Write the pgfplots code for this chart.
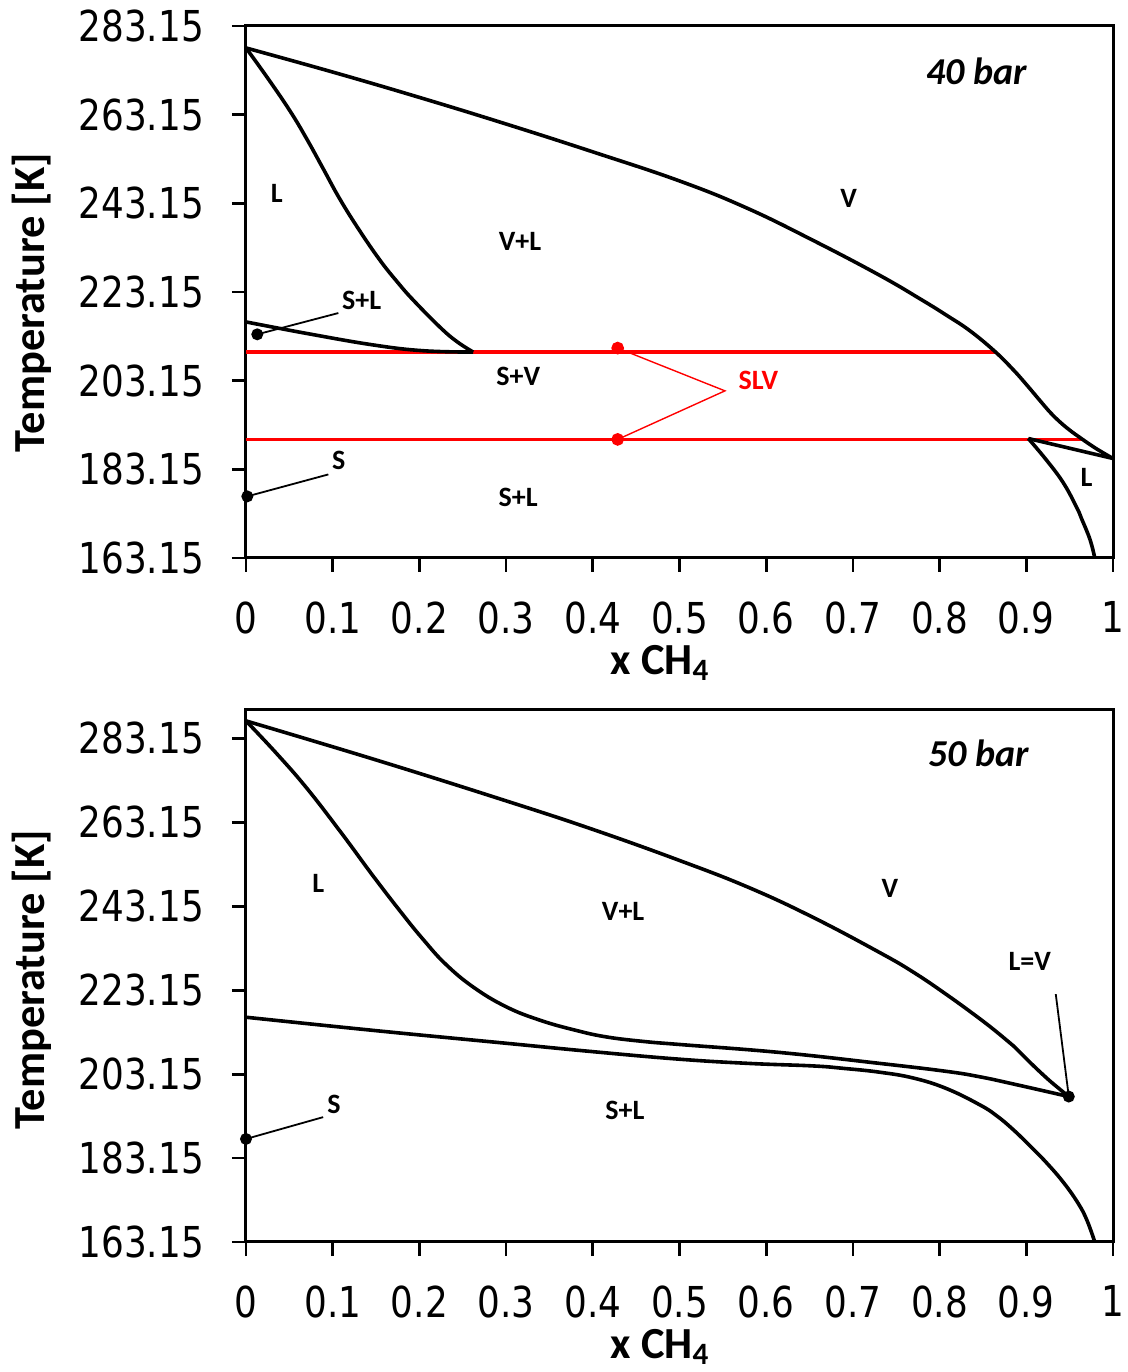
\documentclass[border=0pt]{standalone}
\usepackage{fontspec}
\setmainfont{Carlito}
\newfontfamily\tickfont[FakeStretch=0.84]{DejaVu Sans}
\usepackage{pgfplots}
\pgfplotsset{compat=1.18}
\pgfplotsset{
  phase/.style={
    scale only axis, width=433.5pt, height=266pt,
    xmin=0, xmax=1, clip=false,
    xtick={0,0.1,0.2,0.3,0.4,0.5,0.6,0.7,0.8,0.9,1},
    xticklabels={0,0.1,0.2,0.3,0.4,0.5,0.6,0.7,0.8,0.9,1},
    ytick={163.15,183.15,203.15,223.15,243.15,263.15,283.15},
    yticklabels={163.15,183.15,203.15,223.15,243.15,263.15,283.15},
    tick pos=left, tick align=outside, major tick length=7pt,
    line width=1.5pt,
    every tick/.style={black, line width=1.4pt},
    ticklabel style={font=\tickfont\fontsize{21.3}{25}\selectfont},
    xticklabel style={inner sep=0.5pt, yshift=-13.6pt},
    yticklabel style={xshift=-10pt},
    label style={font=\fontsize{22.2}{26}\selectfont\bfseries},
    xlabel={x CH\textsubscript{4}},
    ylabel={Temperature [K]},
  },
  pcurve/.style={black, line width=1.8pt, no markers},
  red line/.style={red, line width=1.7pt, no markers},
  leader/.style={black, line width=0.9pt, no markers},
}
\tikzset{region/.style={font=\fontsize{14}{16}\selectfont\bfseries}}
\begin{document}
\begin{tikzpicture}
\path[use as bounding box] (0,0) rectangle (564pt,686pt);
% ---------------- 40 bar ----------------
\begin{axis}[phase, at={(123pt,407pt)}, anchor=south west,
  ymin=163.15, ymax=283.15,
  xlabel style={at={(axis description cs:0.4775,-0.1975)}, anchor=center, inner sep=0pt},
  ylabel style={at={(axis description cs:-0.247,0.48)}, anchor=center, rotate=0}]
\addplot[red line] coordinates {(0,209.6) (0.864,209.6)};
\addplot[red line] coordinates {(0,189.9) (0.964,189.9)};
\addplot[red, line width=0.7pt] coordinates {(0.4287,210.5) (0.5524,200.85) (0.4287,189.9)};
\addplot[only marks, red, mark=*, mark size=2.4pt] coordinates {(0.4287,210.5) (0.4287,189.9)};
% dew curve
\addplot[pcurve, smooth, tension=0.7] coordinates {(0,278.2) (0.1,272.76) (0.2,267.04) (0.3,261.04) (0.4,254.76) (0.5,248.2)
  (0.5775,242.1) (0.654,234.8) (0.731,226.9) (0.78,221.3) (0.808,217.9) (0.835,214.4) (0.864,209.7)
  (0.885,205.6) (0.9,202.3) (0.916,198.6) (0.928,195.9) (0.939,193.8) (0.95,192.0) (0.962,190.3)
  (0.98,187.9) (1.0,185.6)};
% bubble curve
\addplot[pcurve, smooth, tension=0.7] coordinates {(0,278.2) (0.025,271.4) (0.0507,264.0) (0.07,257.7) (0.0892,250.9) (0.108,244.2) (0.13,237.3) (0.1546,230.3)
  (0.175,225.3) (0.193,221.3) (0.2238,215.2) (0.243,212.0) (0.262,209.6)};
% solid-liquid
\addplot[pcurve, smooth, tension=0.7] coordinates {(0,216.4) (0.07,213.8) (0.147,211.2) (0.2045,209.9) (0.262,209.6)};
% right L region
\addplot[pcurve] coordinates {(0.9023,190.1) (1.0,185.6)};
\addplot[pcurve, smooth, tension=0.7] coordinates {(0.9023,190.1) (0.923,185.3) (0.9427,180.1) (0.958,174.6) (0.964,171.9) (0.9735,167.3) (0.979,163.15)};
% leaders
\addplot[leader] coordinates {(0.013,213.6) (0.1065,218.4)};
\addplot[leader] coordinates {(0.0015,177.05) (0.095,182.0)};
\addplot[only marks, black, mark=*, mark size=2.2pt] coordinates {(0.013,213.6) (0.0015,177.05)};
% labels
\node[font=\fontsize{19}{22}\selectfont\bfseries\itshape] at (axis cs:0.843,272.9) {40 bar};
\node[region] at (axis cs:0.0354,245.4) {L};
\node[region] at (axis cs:0.316,234.5) {V+L};
\node[region] at (axis cs:0.1334,221.3) {S+L};
\node[region] at (axis cs:0.314,204.0) {S+V};
\node[region, red] at (axis cs:0.591,203.2) {SLV};
\node[region] at (axis cs:0.107,185.2) {S};
\node[region] at (axis cs:0.314,176.9) {S+L};
\node[region] at (axis cs:0.695,244.2) {V};
\node[region] at (axis cs:0.9696,181.4) {L};
\end{axis}
% ---------------- 50 bar ----------------
\begin{axis}[phase, at={(123pt,65pt)}, anchor=south west,
  ymin=163.15, ymax=289.9,
  xlabel style={at={(axis description cs:0.4775,-0.1975)}, anchor=center, inner sep=0pt},
  ylabel style={at={(axis description cs:-0.247,0.493)}, anchor=center, rotate=0}]
% dew
\addplot[pcurve, smooth, tension=0.7] coordinates {(0,287.3) (0.15,278.0) (0.3,268.25) (0.4,261.45) (0.5,254.05)
  (0.58,247.6) (0.654,240.5) (0.731,232.1) (0.77,227.4) (0.808,222.1) (0.8466,216.3) (0.87,212.5)
  (0.885,209.9) (0.904,206.0) (0.923,202.3) (0.936,200.0) (0.949,197.8)};
% bubble
\addplot[pcurve, smooth, tension=0.7] coordinates {(0,287.3) (0.035,279.6) (0.07,271.3) (0.11,260.6) (0.1468,250.3)
  (0.18,241.4) (0.2045,235.2) (0.23,229.4) (0.262,223.9) (0.30,219.2) (0.339,216.0) (0.38,213.6)
  (0.416,212.0) (0.46,210.9) (0.5006,210.2) (0.616,208.3) (0.731,205.7) (0.808,203.8) (0.8466,202.5)
  (0.885,200.8) (0.949,197.8)};
% solid-liquid
\addplot[pcurve, smooth, tension=0.7] coordinates {(0,216.7) (0.15,213.5) (0.3,210.5) (0.4,208.5) (0.5,206.7) (0.58,205.7)
  (0.654,205.1) (0.69,204.5) (0.731,203.6) (0.77,202.2) (0.808,199.7) (0.8466,195.8) (0.866,193.2)
  (0.885,189.9) (0.904,186.1) (0.923,182.1) (0.943,177.3) (0.96,172.3) (0.97,168.3) (0.979,163.15)};
% leaders
\addplot[leader] coordinates {(0.934,222.2) (0.949,197.8)};
\addplot[leader] coordinates {(0,187.7) (0.089,192.9)};
\addplot[only marks, black, mark=*, mark size=2.2pt] coordinates {(0.949,197.8) (0,187.7)};
% labels
\node[font=\fontsize{19}{22}\selectfont\bfseries\itshape] at (axis cs:0.845,279.6) {50 bar};
\node[region] at (axis cs:0.0834,248.7) {L};
\node[region] at (axis cs:0.435,242.0) {V+L};
\node[region] at (axis cs:0.7428,247.5) {V};
\node[region] at (axis cs:0.904,230.1) {L=V};
\node[region] at (axis cs:0.1015,196.0) {S};
\node[region] at (axis cs:0.4371,194.4) {S+L};
\end{axis}
\end{tikzpicture}
\end{document}
